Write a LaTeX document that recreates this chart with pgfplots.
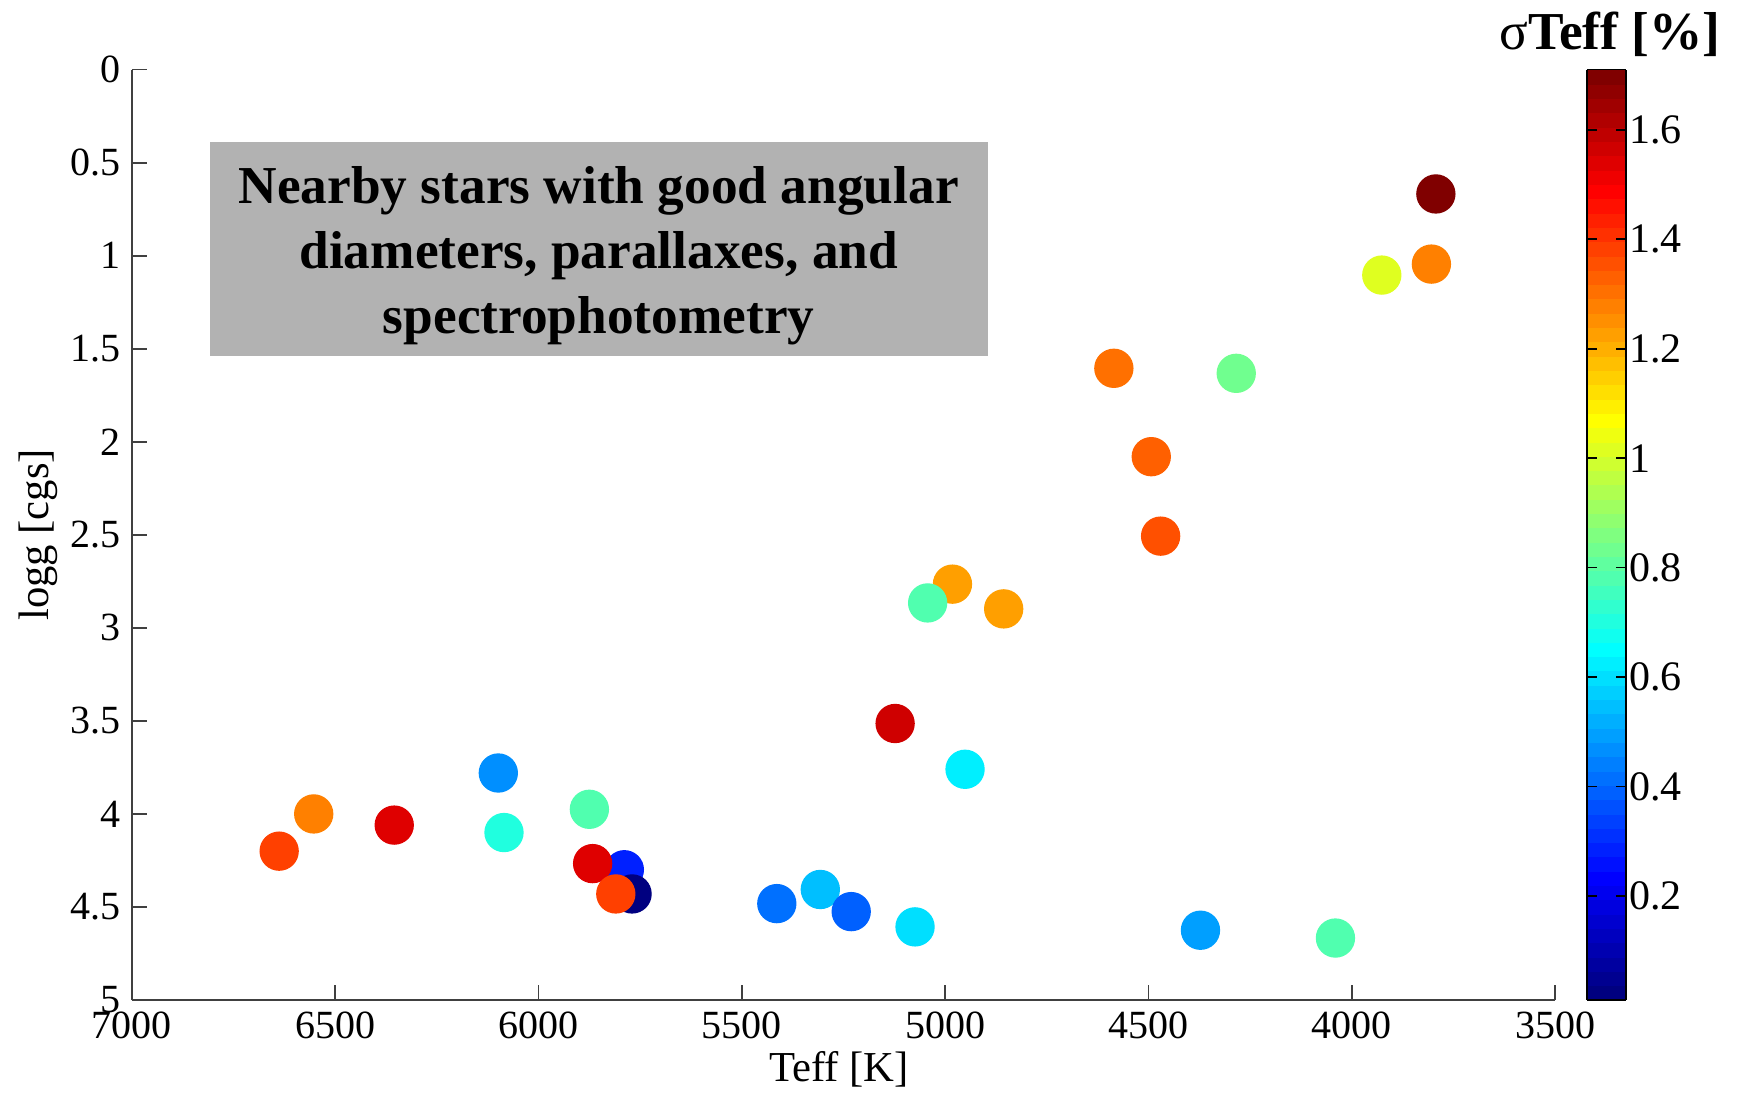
\documentclass[border=0pt]{standalone}
\usepackage{pgfplots}
\pgfplotsset{compat=1.18}
\usepackage{fontspec}
\setmainfont{Liberation Serif}

% Teff [K], logg [cgs], sigma Teff [%]
\pgfplotstableread{
x     y      s
3793  0.668  1.71
3804  1.045  1.285
3926  1.104  1.015
4585  1.605  1.305
4284  1.632  0.84
4493  2.080  1.33
4470  2.507  1.365
4982  2.765  1.23
5043  2.866  0.78
4856  2.898  1.23
5123  3.514  1.556
4951  3.760  0.622
6099  3.780  0.456
6553  4.000  1.28
5875  3.975  0.78
6355  4.060  1.53
6085  4.100  0.697
6638  4.200  1.39
5789  4.300  0.272
5770  4.430  0.01
5867  4.267  1.53
5810  4.430  1.39
5414  4.482  0.406
5307  4.406  0.54
5231  4.525  0.39
5074  4.607  0.61
4372  4.625  0.505
4040  4.667  0.78
}\stars

% jet in 64 discrete bands
\pgfplotsset{colormap/jet}
\pgfplotsset{colormap={jetbands}{samples of colormap=(65 of jet)}}

\begin{document}
\begin{tikzpicture}
\useasboundingbox (0,0) rectangle (521.4pt,328.5pt);
\begin{axis}[
  at={(39.6pt,28.5pt)}, anchor=south west,
  scale only axis, width=426.9pt, height=279.1pt,
  x dir=reverse, y dir=reverse,
  xmin=3500, xmax=7000, ymin=0, ymax=5,
  axis x line*=bottom, axis y line*=left,
  axis line style={black!75, line width=0.6pt},
  every tick/.style={black!75, line width=0.5pt},
  tick align=inside, major tick length=4.5pt,
  xtick={3500,4000,4500,5000,5500,6000,6500,7000},
  ytick={0,0.5,1,1.5,2,2.5,3,3.5,4,4.5,5},
  scaled x ticks=false,
  /pgf/number format/1000 sep={},
  /pgf/number format/assume math mode=true,
  tick label style={font=\fontsize{12}{14}\selectfont},
  xlabel={Teff [K]}, ylabel={logg [cgs]},
  every axis x label/.style={at={(axis description cs:0.497,-0.0881)}, anchor=base, font=\fontsize{12.8}{15}\selectfont},
  every axis y label/.style={at={(axis description cs:-0.059,0.5)}, rotate=90, anchor=base, font=\fontsize{12.8}{15}\selectfont},
  colormap name=jetbands,
  colormap access=piecewise constant,
  point meta min=0.01, point meta max=1.71,
  colorbar,
  colorbar style={
    at={(parent axis.north east)}, anchor=north west, xshift=1pt,
    scale only axis, width=11.7pt, height=279.1pt,
    ytick={0.2,0.4,0.6,0.8,1,1.2,1.4,1.6},
    ytick pos=both, yticklabel pos=right,
    tick align=inside, major tick length=3pt,
    every tick/.style={black, line width=0.5pt},
    axis line style={black, line width=0.5pt},
    /pgf/number format/assume math mode=true,
    yticklabel style={font=\fontsize{12.6}{14}\selectfont, xshift=-2.5pt},
  },
]
\fill[black!30] (axis cs:6809,0.389) rectangle (axis cs:4895,1.538);
\node[align=center, font=\bfseries\fontsize{16}{19.4}\selectfont] at (axis cs:5852,1.0)
  {Nearby stars with good angular\\diameters, parallaxes, and\\spectrophotometry};
\addplot[scatter, only marks, mark=*, mark size=5.7pt, point meta=explicit,
  scatter/use mapped color={draw=mapped color, fill=mapped color}]
  table[x=x, y=y, meta=s] {\stars};
\end{axis}
\node[anchor=base east, inner sep=0pt, font=\bfseries\fontsize{16}{19}\selectfont] at (516.3pt,313.5pt)
  {{\mdseries σ}Teff [\%]};
\end{tikzpicture}
\end{document}
